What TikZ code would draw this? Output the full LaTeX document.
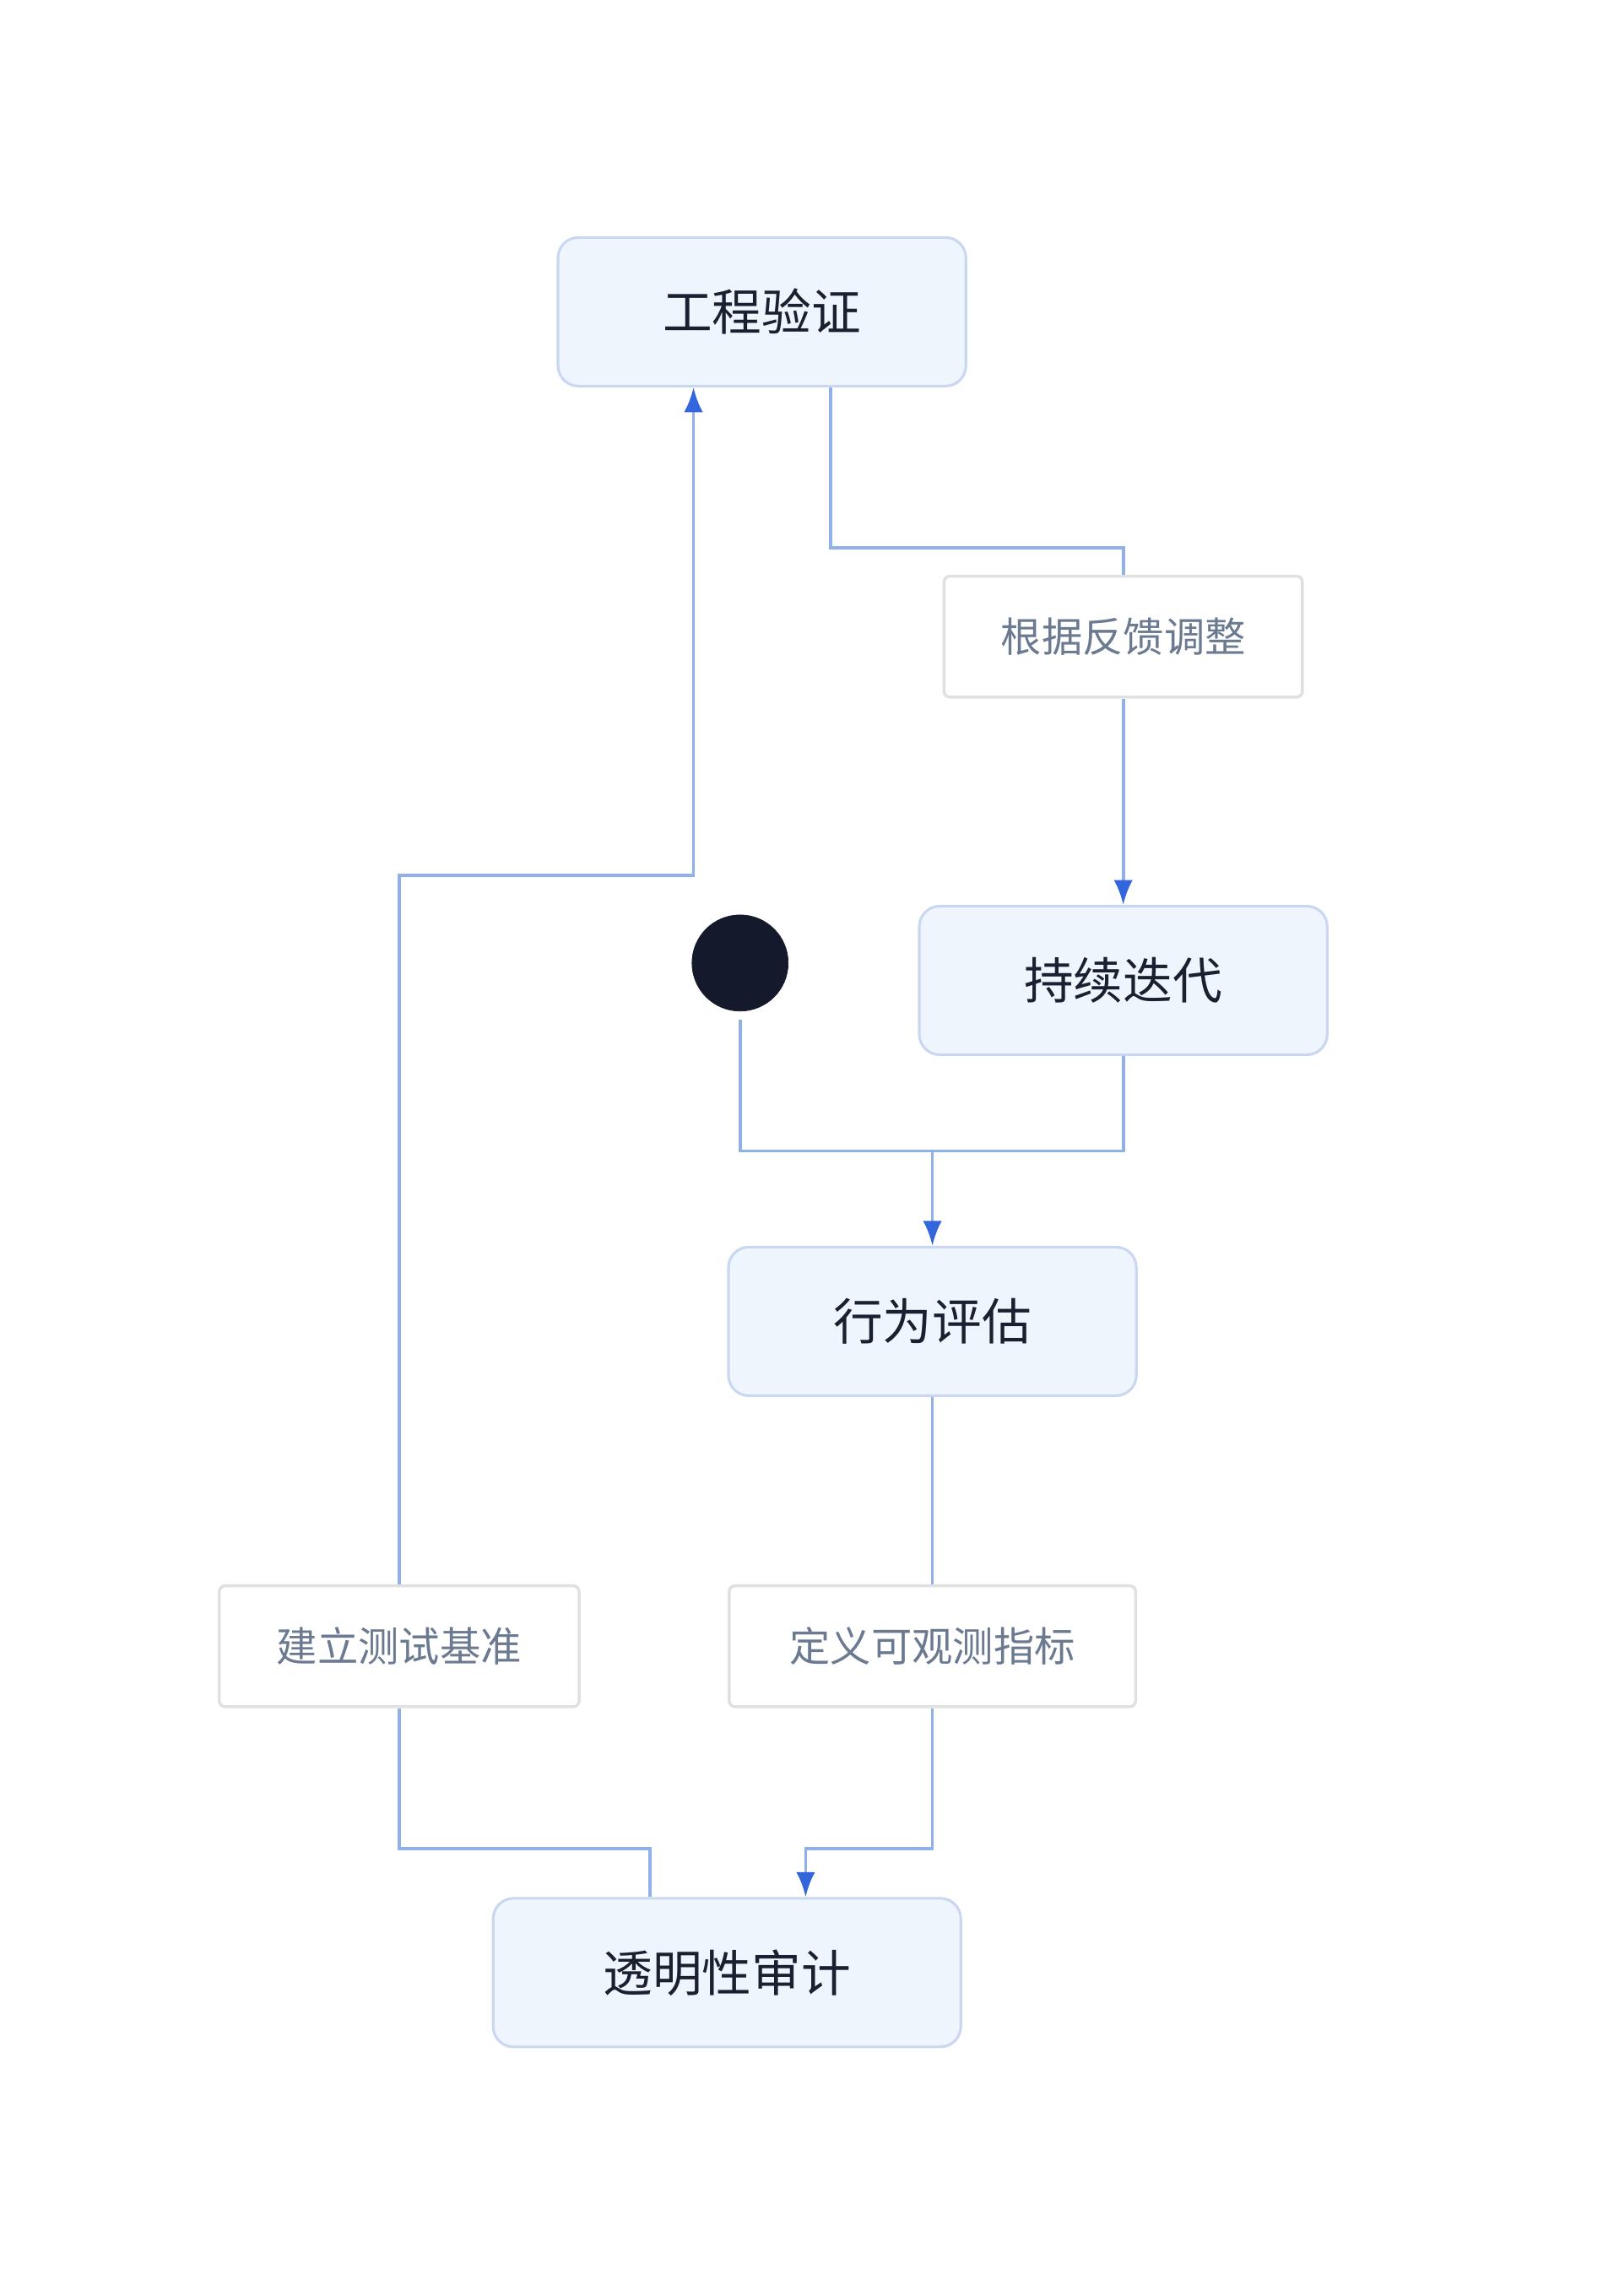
\documentclass[tikz,border=0pt]{standalone}
\usepackage{fontspec}
\setmainfont{Noto Sans CJK SC}
\usetikzlibrary{arrows.meta}
\definecolor{edgec}{HTML}{8FB0E8}
\definecolor{arrc}{HTML}{3366DD}
\definecolor{boxf}{HTML}{EFF5FD}
\definecolor{boxd}{HTML}{C9D8F0}
\definecolor{lbld}{HTML}{E0E0E0}
\definecolor{lblt}{HTML}{6B7A90}
\definecolor{txt}{HTML}{1A2030}
\definecolor{dot}{HTML}{141A2B}
\begin{document}
\begin{tikzpicture}[x=1pt,y=-1pt,
  state/.style={draw=boxd,fill=boxf,line width=1.8pt,rounded corners=14pt,minimum width=280pt,minimum height=102pt,inner sep=0pt,text=txt,font=\fontsize{34}{40}\selectfont},
  lbl/.style={draw=lbld,fill=white,line width=2pt,rounded corners=4pt,minimum height=83pt,inner sep=0pt,text=lblt,font=\fontsize{28}{34}\selectfont},
  edge/.style={draw=edgec,line width=2.2pt},
  arr/.style={edge,-{Latex[length=17pt,width=13pt,color=arrc]}}]
\useasboundingbox (0,0) rectangle (1100,1576);
\node[state] (gc) at (523,214) {工程验证};
\node[lbl,minimum width=246pt] (l1) at (771,437) {根据反馈调整};
\node[state] (cx) at (771,673) {持续迭代};
\node[circle,fill=dot,draw=dot,minimum size=66pt,inner sep=0pt] (st) at (508,661) {};
\node[state] (xw) at (640,907) {行为评估};
\node[lbl,minimum width=247pt] (l2) at (274,1130) {建立测试基准};
\node[lbl,minimum width=279pt] (l3) at (640,1130) {定义可观测指标};
\node[state,minimum width=321pt] (tm) at (499,1354) {透明性审计};
\coordinate (m) at (640,790);
\draw[edge] (gc.south -| 570,0) |- (771,376) -- (l1.north);
\draw[arr] (l1.south) -- (cx.north);
\draw[edge] (508,700) |- (m);
\draw[edge] (cx.south) |- (m);
\draw[arr] (m) -- (xw.north);
\draw[edge] (xw.south) -- (l3.north);
\draw[arr] (l3.south) |- (553,1269) -- (tm.north -| 553,0);
\draw[edge] (tm.north -| 446,0) |- (274,1269) -- (l2.south);
\draw[arr] (l2.north) |- (476,601) -- (gc.south -| 476,0);
\end{tikzpicture}
\end{document}
